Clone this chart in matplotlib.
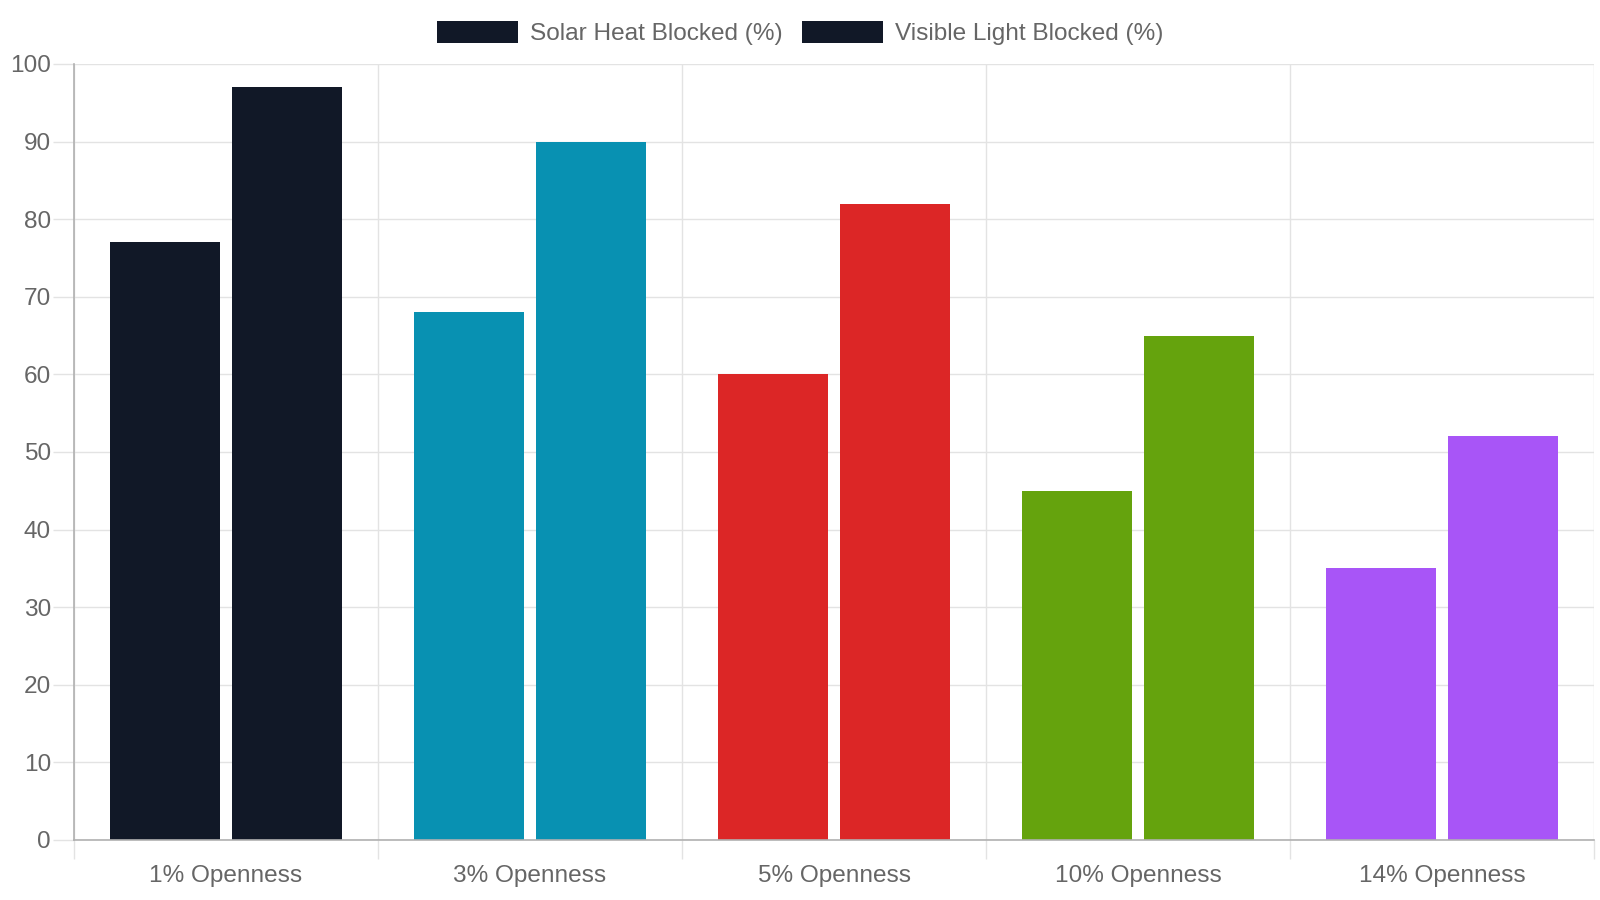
import numpy as np
import matplotlib.pyplot as plt
from matplotlib.patches import Patch
from matplotlib.ticker import MultipleLocator

plt.rcParams['font.family'] = ['Liberation Sans', 'DejaVu Sans']

# Данные
categories = ['1% Openness', '3% Openness', '5% Openness', '10% Openness', '14% Openness']
solar_heat = [77, 68, 60, 45, 35]
visible_light = [97, 90, 82, 65, 52]
bar_colors = ['#111827', '#0891b2', '#dc2626', '#65a30d', '#a855f7']
series_names = ['Solar Heat Blocked (%)', 'Visible Light Blocked (%)']

text_color = '#666666'
grid_color = '#e3e3e3'
axis_color = '#b0b0b0'
fs = 17.6  # ~24px

fig = plt.figure(figsize=(16, 9), dpi=100)
ax = fig.add_axes([74 / 1600, 60 / 900, 1520 / 1600, 776 / 900])

x = np.arange(len(categories))
width = 0.36
ax.bar(x - 0.2, solar_heat, width, color=bar_colors, zorder=3)
ax.bar(x + 0.2, visible_light, width, color=bar_colors, zorder=3)

ax.set_xlim(-0.5, len(categories) - 0.5)
ax.set_ylim(0, 100)

# Оси и сетка
ax.yaxis.set_major_locator(MultipleLocator(10))
ax.set_xticks(x)
ax.set_xticklabels(categories)
ax.set_xticks(np.arange(-0.5, len(categories)), minor=True)
ax.tick_params(axis='x', which='major', length=0, pad=18, labelsize=fs, labelcolor=text_color)
ax.tick_params(axis='x', which='minor', length=14, width=1, color=grid_color)
ax.tick_params(axis='y', length=15, width=1, color=grid_color, pad=1.5,
               labelsize=fs, labelcolor=text_color)
ax.grid(axis='y', color=grid_color, linewidth=1, zorder=0)
ax.grid(axis='x', which='minor', color=grid_color, linewidth=1, zorder=0)

for side in ['top', 'right']:
    ax.spines[side].set_visible(False)
for side in ['left', 'bottom']:
    ax.spines[side].set_color(axis_color)
    ax.spines[side].set_linewidth(1.2)
    ax.spines[side].set_zorder(4)

# Легенда (как в Chart.js: цвет первого столбца)
handles = [Patch(facecolor=bar_colors[0]), Patch(facecolor=bar_colors[0])]
leg = fig.legend(handles, series_names, loc='center', bbox_to_anchor=(0.5, 1 - 33 / 900),
                 ncol=2, frameon=False, fontsize=fs, handlelength=3.3, handleheight=1.05,
                 handletextpad=0.5, columnspacing=0.8)
for t in leg.get_texts():
    t.set_color(text_color)

fig.savefig('out.png', dpi=100)
